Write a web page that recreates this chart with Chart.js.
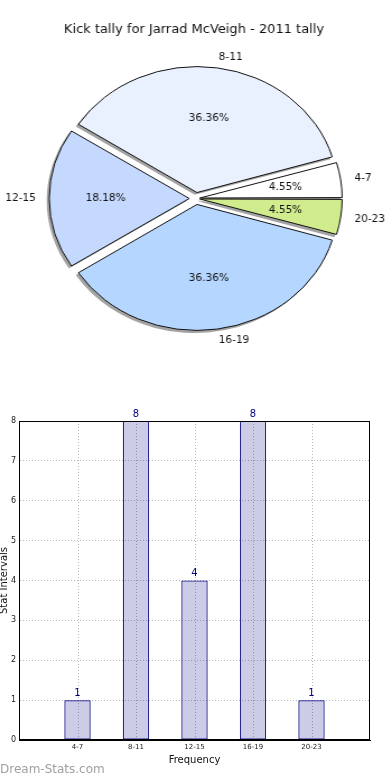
<!DOCTYPE html>
<html>
<head>
<meta charset="utf-8">
<script src="https://cdn.jsdelivr.net/npm/chart.js@4.4.1/dist/chart.umd.min.js"></script>
<style>
  html, body { margin: 0; padding: 0; background: #fff; width: 390px; height: 780px; overflow: hidden; }
  #pieBox { position: absolute; left: 0; top: 0; width: 390px; height: 370px; transform: scaleX(1.12); transform-origin: 196px 0; }
  #barBox { position: absolute; left: 0; top: 395px; width: 390px; height: 385px; }
</style>
</head>
<body>
<div id="pieBox"><canvas id="pie"></canvas></div>
<div id="barBox"><canvas id="bar"></canvas></div>
<script>
const categories = ["4-7", "8-11", "12-15", "16-19", "20-23"];
const counts = [1, 8, 4, 8, 1];
const pieColors = ["#ffffff", "#eaf1fe", "#c5d9fe", "#b5d6fe", "#d0ec8c"];
const yTicks = [0, 1, 2, 3, 4, 5, 6, 7, 8];
const chartTitle = "Kick tally for Jarrad McVeigh - 2011 tally";
const xTitle = "Frequency";
const yTitle = "Stat Intervals";
const watermark = "Dream-Stats.com";

const FONT = "'DejaVu Sans', sans-serif";
const SX = 1.12;       // pie is an ellipse in the original, so the canvas is stretched
const EXPLODE = 24;    // chart.js moves a slice by offset / 4
// thin slices also grow in radius with offset, so give them less
const sliceOffsets = counts.map(c => c / counts.reduce((a, b) => a + b, 0) < 0.1 ? 14 : EXPLODE);

// matplotlib goes anticlockwise from 3 o'clock, chart.js clockwise -> reverse
let pieLabels = categories.slice().reverse();
let pieData = counts.slice().reverse();
let pieBg = pieColors.slice().reverse();
let pieOff = sliceOffsets.slice().reverse();
let total = counts.reduce((a, b) => a + b, 0);

function squeezedText(ctx, txt, x, y) {
  ctx.save();
  ctx.translate(x, y);
  ctx.scale(1 / SX, 1);
  ctx.fillText(txt, 0, 0);
  ctx.restore();
}

function slicePos(p, i) {
  let mid = (p.startAngle + p.endAngle) / 2;
  let off = pieOff[i] / 4;
  return {mid, off, cx: p.x + Math.cos(mid) * off, cy: p.y + Math.sin(mid) * off};
}

const pieExtras = {
  id: "pieExtras",
  beforeDatasetsDraw(chart) {
    let ctx = chart.ctx;
    ctx.save();
    ctx.fillStyle = "rgba(50,50,50,0.45)";
    chart.getDatasetMeta(0).data.forEach((arc, i) => {
      let p = arc.getProps(["x", "y", "startAngle", "endAngle", "outerRadius", "circumference"]);
      let s = slicePos(p, i);
      let r = p.outerRadius + s.off * (1 - Math.sin(Math.min(Math.PI, p.circumference)));
      let cx = s.cx - 2, cy = s.cy + 2.3;
      ctx.beginPath();
      ctx.moveTo(cx, cy);
      ctx.arc(cx, cy, r + 0.3, p.startAngle, p.endAngle);
      ctx.closePath();
      ctx.fill();
    });
    ctx.restore();
  },
  afterDatasetsDraw(chart) {
    let ctx = chart.ctx;
    ctx.save();
    ctx.fillStyle = "#111";
    ctx.textBaseline = "middle";
    chart.getDatasetMeta(0).data.forEach((arc, i) => {
      let p = arc.getProps(["x", "y", "startAngle", "endAngle", "outerRadius"]);
      let s = slicePos(p, i);
      let ex = EXPLODE / 4;
      let bx = p.x + Math.cos(s.mid) * ex, by = p.y + Math.sin(s.mid) * ex;
      let r = p.outerRadius;
      ctx.font = "10.5px " + FONT;
      // percentage inside
      ctx.textAlign = "center";
      let pct = (pieData[i] / total * 100).toFixed(2) + "%";
      squeezedText(ctx, pct, bx + Math.cos(s.mid) * r * 0.6, by + Math.sin(s.mid) * r * 0.6);
      // category outside
      let lx = bx + Math.cos(s.mid) * r * 1.1;
      let ly = by + Math.sin(s.mid) * r * 1.1;
      ctx.textAlign = Math.cos(s.mid) > 0 ? "left" : "right";
      squeezedText(ctx, pieLabels[i], lx, ly);
    });
    ctx.font = "13px " + FONT;
    ctx.textAlign = "center";
    squeezedText(ctx, chartTitle, 194.2, 30);
    ctx.restore();
  }
};

new Chart(document.getElementById("pie"), {
  type: "pie",
  data: {
    labels: pieLabels,
    datasets: [{
      data: pieData,
      backgroundColor: pieBg,
      borderColor: "#111",
      borderWidth: 1,
      offset: pieOff,
      hoverOffset: pieOff
    }]
  },
  options: {
    responsive: true,
    maintainAspectRatio: false,
    animation: false,
    events: [],
    rotation: 90,
    layout: {padding: {left: 59, right: 57, top: 61.5, bottom: 34.5}},
    plugins: {legend: {display: false}, tooltip: {enabled: false}}
  },
  plugins: [pieExtras]
});

/* Bar chart */
const barExtras = {
  id: "barExtras",
  beforeDatasetsDraw(chart) {
    // vertical dotted grid through the bar centres (drawn under the see-through bars)
    let ctx = chart.ctx;
    let ca = chart.chartArea;
    let xs = chart.scales.x;
    ctx.save();
    ctx.strokeStyle = "#b8b8b8";
    ctx.lineWidth = 1;
    ctx.setLineDash([1, 2]);
    categories.forEach((c, i) => {
      let px = Math.round(xs.getPixelForValue(i + 1)) + 0.5;
      ctx.beginPath();
      ctx.moveTo(px, ca.top);
      ctx.lineTo(px, ca.bottom);
      ctx.stroke();
    });
    ctx.restore();
  },
  afterDatasetsDraw(chart) {
    let ctx = chart.ctx;
    let ca = chart.chartArea;
    ctx.save();
    // value labels
    ctx.fillStyle = "#000080";
    ctx.font = "10px " + FONT;
    ctx.textAlign = "center";
    ctx.textBaseline = "bottom";
    chart.getDatasetMeta(0).data.forEach((bar, i) => {
      ctx.fillText(String(counts[i]), bar.x, bar.y - 2);
    });
    // frame
    ctx.strokeStyle = "#000";
    ctx.lineWidth = 1;
    let l = Math.round(ca.left) + 0.5, t = Math.round(ca.top) + 0.5;
    let r = Math.round(ca.right) - 0.5, b = Math.round(ca.bottom) - 0.5;
    ctx.strokeRect(l, t, r - l, b - t);
    // titles
    ctx.fillStyle = "#111";
    ctx.textBaseline = "middle";
    ctx.font = "10px " + FONT;
    ctx.fillText(xTitle, (ca.left + ca.right) / 2, 365);
    ctx.save();
    ctx.translate(4, (ca.top + ca.bottom) / 2);
    ctx.rotate(-Math.PI / 2);
    ctx.fillText(yTitle, 0, 0);
    ctx.restore();
    ctx.fillStyle = "#a0a0a0";
    ctx.font = "12px " + FONT;
    ctx.textAlign = "left";
    ctx.fillText(watermark, 0, 375);
    ctx.restore();
  }
};

new Chart(document.getElementById("bar"), {
  type: "bar",
  data: {
    datasets: [{
      data: counts.map((c, i) => ({x: i + 1, y: c})),
      backgroundColor: "rgba(0,0,128,0.2)",
      borderColor: "#000080",
      borderWidth: 1,
      borderSkipped: false,
      barPercentage: 0.45,
      categoryPercentage: 1
    }]
  },
  options: {
    responsive: true,
    maintainAspectRatio: false,
    animation: false,
    events: [],
    layout: {padding: {left: 0, right: 20, top: 26, bottom: 0}},
    plugins: {legend: {display: false}, tooltip: {enabled: false}},
    scales: {
      x: {
        type: "linear",
        min: 0,
        max: categories.length + 1,
        offset: false,
        afterFit(s) { s.height = 40; },
        afterBuildTicks(s) { s.ticks = [0, 1, 2, 3, 4, 5, 6].map(v => ({value: v})); },
        ticks: {
          padding: 3,
          autoSkip: false,
          maxRotation: 0,
          color: "#222",
          font: {family: FONT, size: 7},
          callback: v => categories[v - 1] || ""
        },
        grid: {drawOnChartArea: false, drawTicks: false},
        border: {color: "#000"}
      },
      y: {
        min: 0,
        max: 8,
        afterFit(s) { s.width = 19; },
        afterBuildTicks(s) { s.ticks = yTicks.map(v => ({value: v})); },
        ticks: {padding: 3, color: "#222", font: {family: FONT, size: 8}},
        grid: {
          drawTicks: false,
          color: c => (c.tick && c.tick.value > 0 && c.tick.value < 8) ? "#b8b8b8" : "rgba(0,0,0,0)"
        },
        border: {color: "#000", dash: [1, 2]}
      }
    }
  },
  plugins: [barExtras]
});
</script>
</body>
</html>
